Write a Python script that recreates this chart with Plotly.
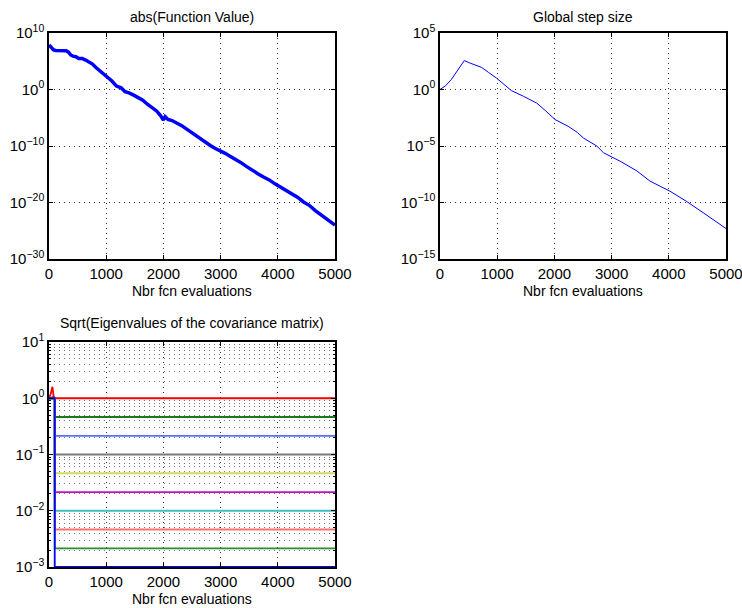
import plotly.graph_objects as go

# ---- data ----
f_evals = [0, 30, 80, 120, 200, 300, 340, 380, 420, 470, 520, 580, 640, 700, 760, 820, 880, 950,
           1020, 1100, 1180, 1260, 1330, 1400, 1480, 1560, 1640, 1720, 1800, 1880, 1950, 2000, 2030,
           2080, 2150, 2230, 2320, 2420, 2500, 2580, 2650, 2730, 2820, 2900, 2990, 3080, 3180, 3260,
           3350, 3450, 3550, 3650, 3750, 3850, 3950, 4050, 4150, 4250, 4350, 4450, 4550, 4650, 4750,
           4850, 4950, 5000]
f_values = [7.9e7, 3.2e7, 1e7, 7.9e6, 7.9e6, 7.1e6, 4e6, 1.3e6, 7.9e5, 6.3e5, 3.2e5, 3.2e5, 1.6e5,
            6.3e4, 3.2e4, 7.9e3, 2.5e3, 500, 126, 32, 4, 2, 0.4, 0.25, 0.1, 0.032, 0.0126, 2.5e-3,
            6.3e-4, 1.6e-4, 2.5e-5, 4e-6, 1.6e-5, 5e-6, 3.2e-6, 1.26e-6, 4e-7, 7.9e-8, 2e-8, 6.3e-9,
            1.6e-9, 4e-10, 1.26e-10, 4e-11, 1.6e-11, 5e-12, 1.26e-12, 5e-13, 1.26e-13, 2.5e-14,
            5e-15, 1.26e-15, 3.2e-16, 1e-16, 2e-17, 5e-18, 1.26e-18, 4e-19, 7.9e-20, 1.26e-20,
            3.2e-21, 4e-22, 7.9e-23, 1.6e-23, 3.2e-24, 1e-24]

sigma_evals = [0, 100, 200, 300, 425, 520, 640, 730, 850, 990, 1120, 1250, 1460, 1690, 1850, 2010,
               2240, 2400, 2510, 2740, 2860, 3150, 3440, 3670, 4020, 4310, 4600, 5000]
sigma_values = [1, 2.2, 7.9, 45, 363, 224, 126, 89, 32, 10, 2.8, 0.79, 0.25, 0.063, 0.0126, 2.2e-3,
                5.6e-4, 1.6e-4, 5e-5, 1e-5, 2.5e-6, 4.5e-7, 6.3e-8, 7.9e-9, 1e-9, 1.26e-10,
                1.26e-11, 5e-13]

eig_evals = [0, 30, 60, 80, 100, 100, 5000]
eig_series = [
    [1.0, 1.2, 1.6, 1.1, 1.0, 1.0, 1.0],
    [1.0, 1.0, 1.05, 1.0, 1.0, 0.464, 0.464],
    [1.0, 1.0, 1.0, 1.0, 1.0, 0.215, 0.215],
    [1.0, 1.0, 1.0, 1.0, 1.0, 0.1, 0.1],
    [1.0, 1.0, 1.0, 1.0, 1.0, 0.0464, 0.0464],
    [1.0, 1.0, 1.0, 1.0, 1.0, 0.0215, 0.0215],
    [1.0, 1.0, 1.0, 1.0, 1.0, 0.01, 0.01],
    [1.0, 1.0, 1.0, 1.0, 1.0, 0.00464, 0.00464],
    [1.0, 1.0, 1.0, 1.0, 1.0, 0.00215, 0.00215],
    [1.0, 1.0, 1.0, 1.0, 1.0, 0.001, 0.001],
]
eig_colors = ["#ff0000", "#1a7a1a", "#5a70ff", "#7a7a7a", "#d8d860", "#c010c0",
              "#40c0c0", "#ff7070", "#2e8b2e", "#0000ff"]

x_ticks = [0, 1000, 2000, 3000, 4000, 5000]
minor_log_ticks = [m * 10.0 ** d for d in (-3, -2, -1, 0) for m in range(2, 10)]

W, H = 742, 608
FONT = "Liberation Sans, Arial, Helvetica, sans-serif"
DOT = "1px,4px"
GRIDC = "#333333"
MINORC = "#777777"


def px_x(a, b):
    return [a / W, b / W]


def px_y(top, bottom):
    return [1 - bottom / H, 1 - top / H]


def pow_ticks(exps):
    return [10.0 ** e for e in exps], ["10<sup>%s</sup>" % (str(e).replace("-", "\u2212")) for e in exps]


fig = go.Figure()
fig.add_trace(go.Scatter(x=f_evals, y=f_values, mode="lines",
                         line=dict(color="#0000ff", width=3.5), xaxis="x", yaxis="y"))
fig.add_trace(go.Scatter(x=sigma_evals, y=sigma_values, mode="lines",
                         line=dict(color="#0000ff", width=1), xaxis="x2", yaxis="y2"))
for vals, col in zip(eig_series, eig_colors):
    fig.add_trace(go.Scatter(x=eig_evals, y=vals, mode="lines",
                             line=dict(color=col, width=1.8), xaxis="x3", yaxis="y3"))

common_x = dict(range=[0, 5000], tickvals=x_ticks, ticktext=[str(t) for t in x_ticks],
                showline=True, mirror="ticks", linecolor="black", linewidth=1.5,
                ticks="inside", ticklen=4, tickcolor="black", automargin=False,
                ticklabeloverflow="allow",
                showgrid=True, gridcolor=GRIDC, griddash=DOT, gridwidth=1,
                zeroline=False, tickfont=dict(size=15, color="black", family=FONT))
common_y = dict(type="log", showline=True, mirror="ticks", linecolor="black", linewidth=1.5,
                ticks="inside", ticklen=4, tickcolor="black", automargin=False,
                ticklabeloverflow="allow",
                showgrid=True, gridcolor=GRIDC, griddash=DOT, gridwidth=1,
                zeroline=False, tickfont=dict(size=15, color="black", family=FONT))

tv1, tt1 = pow_ticks([10, 0, -10, -20, -30])
tv2, tt2 = pow_ticks([5, 0, -5, -10, -15])
tv3, tt3 = pow_ticks([1, 0, -1, -2, -3])


def label(text, xc, yc):
    return dict(text=text, x=xc / W, y=1 - yc / H, xref="paper", yref="paper",
                xanchor="center", yanchor="middle", showarrow=False,
                font=dict(size=14, color="black", family=FONT))


fig.update_layout(
    width=W, height=H, margin=dict(l=0, r=0, t=0, b=0),
    paper_bgcolor="white", plot_bgcolor="white", showlegend=False,
    font=dict(family=FONT, color="black"),
    xaxis=dict(common_x, domain=px_x(49, 335), anchor="y"),
    yaxis=dict(common_y, domain=px_y(33, 259), anchor="x", range=[-30, 10],
               tickvals=tv1, ticktext=tt1),
    xaxis2=dict(common_x, domain=px_x(440, 726), anchor="y2"),
    yaxis2=dict(common_y, domain=px_y(33, 259), anchor="x2", range=[-15, 5],
                tickvals=tv2, ticktext=tt2),
    xaxis3=dict(common_x, domain=px_x(49, 335), anchor="y3"),
    yaxis3=dict(common_y, domain=px_y(342, 567), anchor="x3", range=[-3, 1],
                tickvals=tv3, ticktext=tt3,
                minor=dict(tickvals=minor_log_ticks, showgrid=True, gridcolor=MINORC,
                           griddash=DOT, gridwidth=1, ticks="inside", ticklen=2,
                           tickcolor="black")),
    annotations=[
        label("abs(Function Value)", 192, 17),
        label("Global step size", 583, 17),
        label("Sqrt(Eigenvalues of the covariance matrix)", 192, 323),
        label("Nbr fcn evaluations", 192, 291),
        label("Nbr fcn evaluations", 583, 291),
        label("Nbr fcn evaluations", 192, 599),
    ],
)

fig.write_html("out.html", config={"displayModeBar": False},
               post_script="document.body.style.margin='0';")
